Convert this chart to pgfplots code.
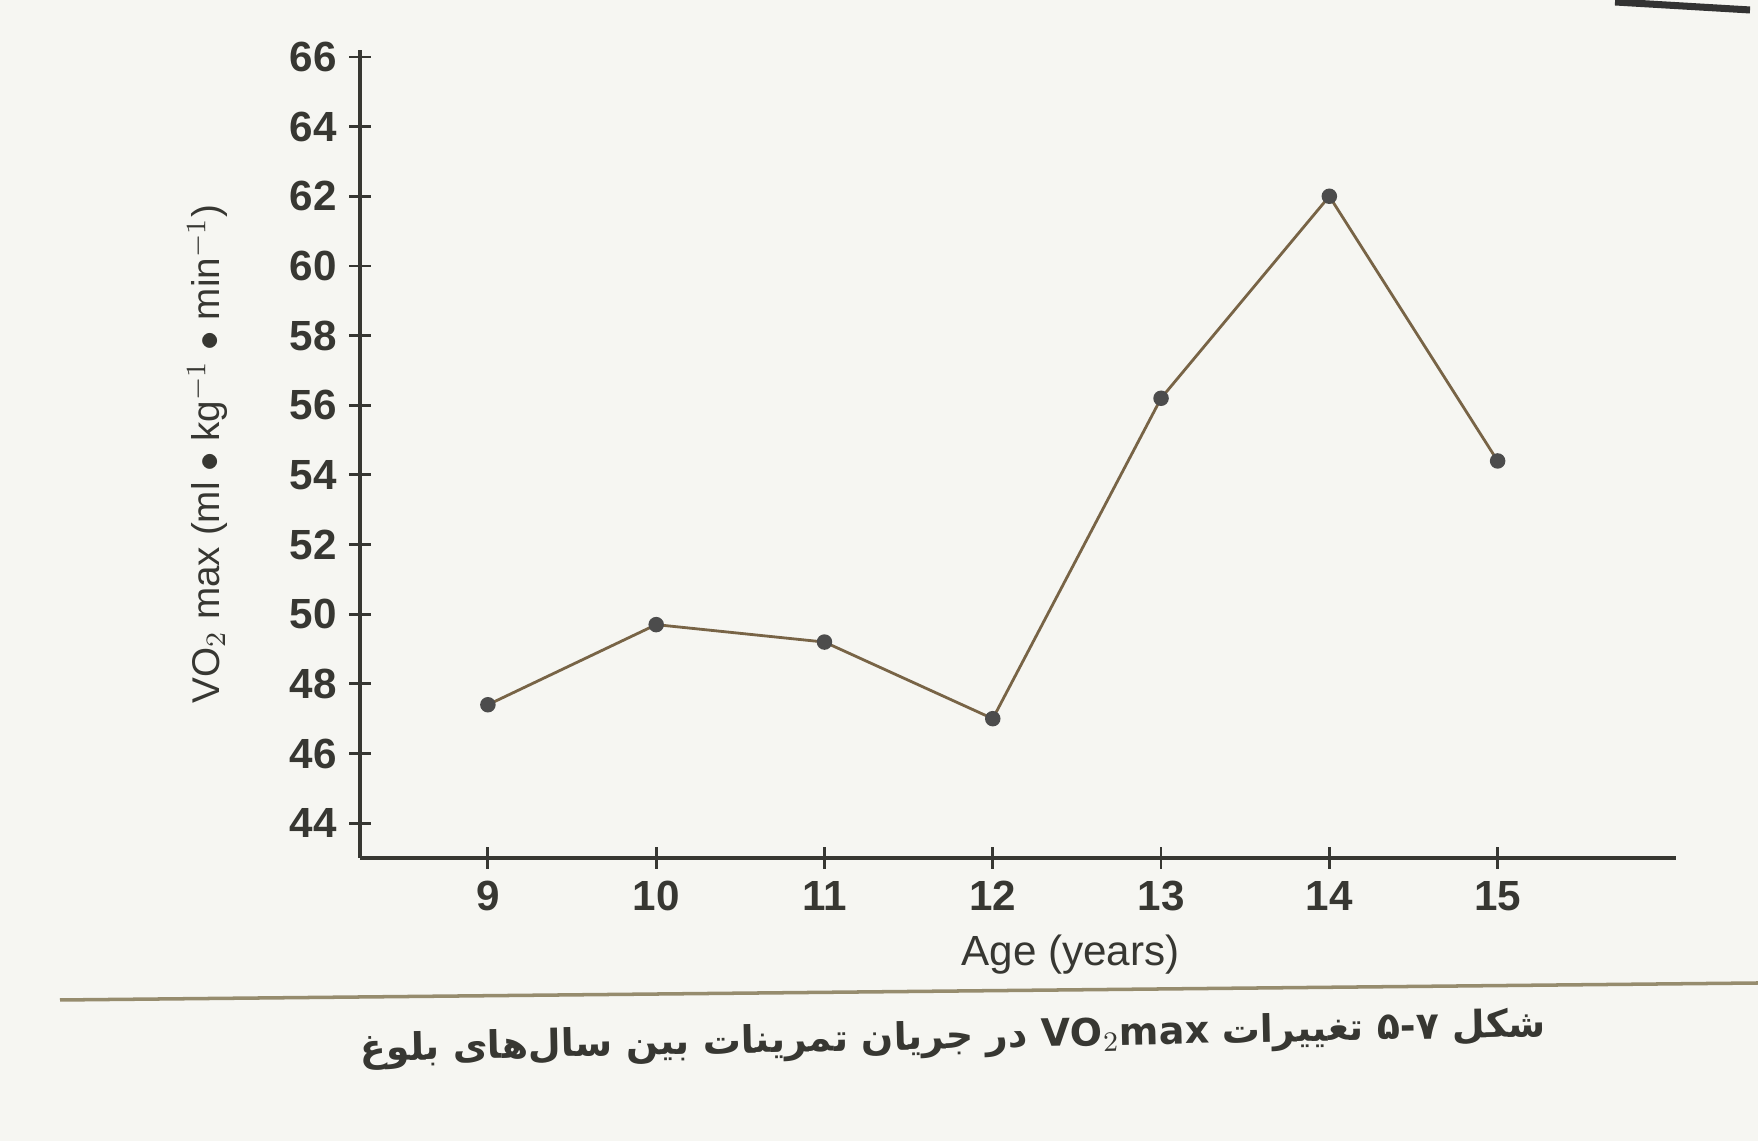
\documentclass[border=0pt]{standalone}
\usepackage{fontspec}
\setmainfont{Liberation Sans}
\newfontfamily\arabicfont[Script=Arabic]{DejaVu Sans}
\TeXXeTstate=1
\usepackage{pgfplots}
\pgfplotsset{compat=1.18}
\definecolor{bg}{RGB}{246,246,242}
\definecolor{axc}{RGB}{55,55,50}
\definecolor{linec}{RGB}{120,100,70}
\definecolor{rulec}{RGB}{150,140,110}
\begin{document}
\begin{tikzpicture}
\fill[bg] (0,0) rectangle (17.58,11.41);
\path[use as bounding box] (0,0) rectangle (17.58,11.41);
\begin{axis}[
 at={(3.60cm,2.83cm)}, anchor=south west,
 scale only axis, width=13.16cm, height=8.08cm,
 xmin=8.24, xmax=16.06, ymin=43, ymax=66.2,
 axis lines=left, axis line style={-, axc, line width=1.4pt},
 xtick={9,...,15}, ytick={44,46,...,66},
 tick style={axc, line width=0.8pt}, major tick length=0.22cm, tick align=center,
 tick label style={font=\fontsize{12}{14}\selectfont\bfseries, text=axc},
 /pgf/number format/assume math mode=true,
 xlabel={Age (years)},
 ylabel={VO$_2$ max (ml $\bullet$ kg$^{-1}$ $\bullet$ min$^{-1}$)},
 label style={font=\fontsize{12}{14}\selectfont, text=axc},
 xlabel style={at={(axis description cs:0.54,-0.12)}, anchor=center},
 ylabel style={at={(axis description cs:-0.116,0.5)}, anchor=center, font=\fontsize{11}{13}\selectfont},
]
\addplot[linec, line width=0.8pt, mark=*, mark size=1.8pt, mark options={fill=black!70, draw=black!70}]
 coordinates {(9,47.4)(10,49.7)(11,49.2)(12,47.0)(13,56.2)(14,62.0)(15,54.4)};
\end{axis}
\draw[rulec, line width=1pt] (0.6,1.41) -- (17.58,1.58);
\draw[black!80, line width=2pt] (16.15,11.39) -- (17.5,11.31);
\node[rotate=1.2, text=axc] at (9.53,1.02) {\arabicfont\bfseries\fontsize{10.8}{13}\selectfont\beginR شکل ۵-۷ تغییرات \beginL VO$_2$max\endL{} در جریان تمرینات بین سال‌های بلوغ\endR};
\end{tikzpicture}
\end{document}
